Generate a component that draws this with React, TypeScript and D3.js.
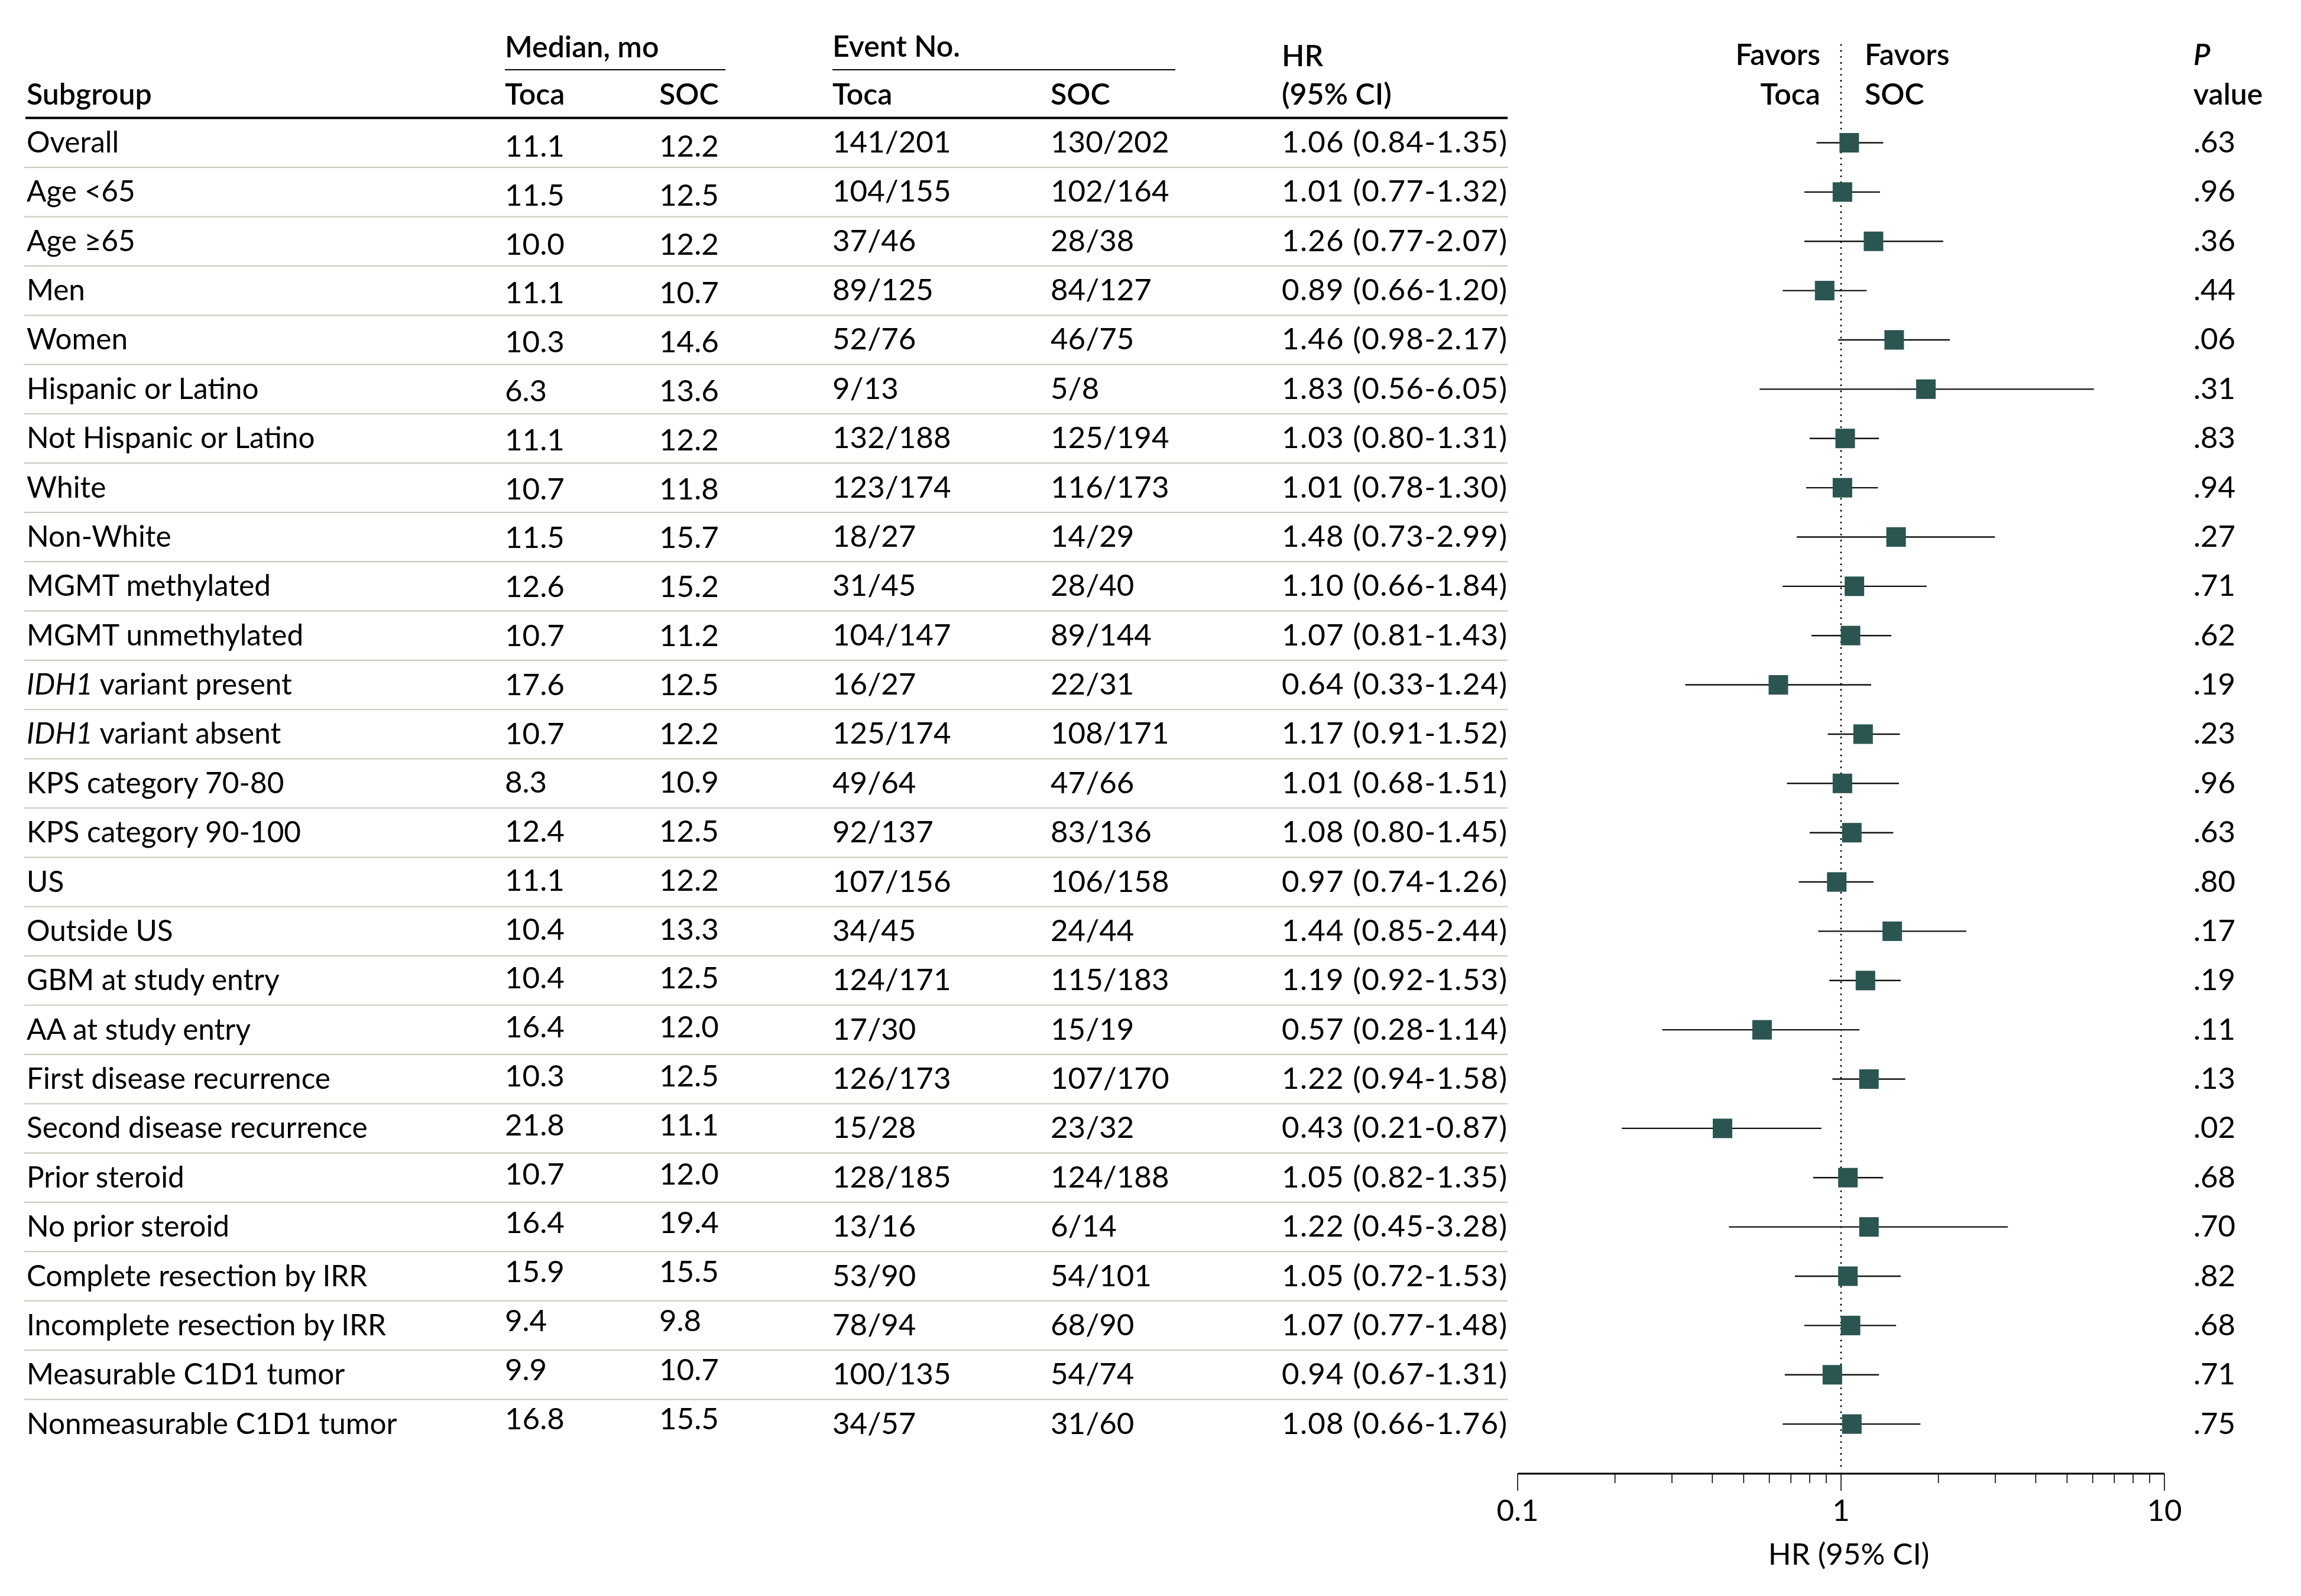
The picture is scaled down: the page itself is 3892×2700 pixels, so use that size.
import React from "react";
import * as d3 from "d3";

const subgroups = [
  "Overall", "Age <65", "Age \u226565", "Men", "Women", "Hispanic or Latino",
  "Not Hispanic or Latino", "White", "Non-White", "MGMT methylated", "MGMT unmethylated",
  "IDH1 variant present", "IDH1 variant absent", "KPS category 70-80", "KPS category 90-100",
  "US", "Outside US", "GBM at study entry", "AA at study entry", "First disease recurrence",
  "Second disease recurrence", "Prior steroid", "No prior steroid", "Complete resection by IRR",
  "Incomplete resection by IRR", "Measurable C1D1 tumor", "Nonmeasurable C1D1 tumor",
];
const medianToca = ["11.1", "11.5", "10.0", "11.1", "10.3", "6.3", "11.1", "10.7", "11.5", "12.6", "10.7", "17.6", "10.7", "8.3", "12.4", "11.1", "10.4", "10.4", "16.4", "10.3", "21.8", "10.7", "16.4", "15.9", "9.4", "9.9", "16.8"];
const medianSOC = ["12.2", "12.5", "12.2", "10.7", "14.6", "13.6", "12.2", "11.8", "15.7", "15.2", "11.2", "12.5", "12.2", "10.9", "12.5", "12.2", "13.3", "12.5", "12.0", "12.5", "11.1", "12.0", "19.4", "15.5", "9.8", "10.7", "15.5"];
const eventToca = ["141/201", "104/155", "37/46", "89/125", "52/76", "9/13", "132/188", "123/174", "18/27", "31/45", "104/147", "16/27", "125/174", "49/64", "92/137", "107/156", "34/45", "124/171", "17/30", "126/173", "15/28", "128/185", "13/16", "53/90", "78/94", "100/135", "34/57"];
const eventSOC = ["130/202", "102/164", "28/38", "84/127", "46/75", "5/8", "125/194", "116/173", "14/29", "28/40", "89/144", "22/31", "108/171", "47/66", "83/136", "106/158", "24/44", "115/183", "15/19", "107/170", "23/32", "124/188", "6/14", "54/101", "68/90", "54/74", "31/60"];
const hrValues = [1.06, 1.01, 1.26, 0.89, 1.46, 1.83, 1.03, 1.01, 1.48, 1.10, 1.07, 0.64, 1.17, 1.01, 1.08, 0.97, 1.44, 1.19, 0.57, 1.22, 0.43, 1.05, 1.22, 1.05, 1.07, 0.94, 1.08];
const ciLower = [0.84, 0.77, 0.77, 0.66, 0.98, 0.56, 0.80, 0.78, 0.73, 0.66, 0.81, 0.33, 0.91, 0.68, 0.80, 0.74, 0.85, 0.92, 0.28, 0.94, 0.21, 0.82, 0.45, 0.72, 0.77, 0.67, 0.66];
const ciUpper = [1.35, 1.32, 2.07, 1.20, 2.17, 6.05, 1.31, 1.30, 2.99, 1.84, 1.43, 1.24, 1.52, 1.51, 1.45, 1.26, 2.44, 1.53, 1.14, 1.58, 0.87, 1.35, 3.28, 1.53, 1.48, 1.31, 1.76];
const pValues = [".63", ".96", ".36", ".44", ".06", ".31", ".83", ".94", ".27", ".71", ".62", ".19", ".23", ".96", ".63", ".80", ".17", ".19", ".11", ".13", ".02", ".68", ".70", ".82", ".68", ".71", ".75"];
const axisTickLabels = ["0.1", "1", "10"];

const FONT = "Lato, 'Open Sans', sans-serif";
const FS = 51;
const LABEL_FS = 49.5;
const HEAD_FS = 50;
const MARKER = "#2b5551";
const SEP = "#c8ccbe";

export default function App() {
  const W = 3892;
  const H = 2700;
  const n = subgroups.length;
  const rowY = d3.scaleLinear().domain([0, n - 1]).range([241.5, 241.5 + (n - 1) * 83.37]);
  const medY = d3.scaleLinear().domain([0, n - 1]).range([241.5 + 7, 241.5 + (n - 1) * 83.37 - 8]);
  const x = d3.scaleLog().domain([0.1, 10]).range([2567, 3661]);
  const ticks = x.ticks();
  const x1 = x(1);
  const axisY = 2493;
  const base = 16.5;

  const fmtHR = (i: number) =>
    `${hrValues[i].toFixed(2)} (${ciLower[i].toFixed(2)}-${ciUpper[i].toFixed(2)})`;

  const renderLabel = (s: string) => {
    if (s.startsWith("IDH1")) {
      return (
        <>
          <tspan fontStyle="italic">IDH1</tspan>
          {s.slice(4)}
        </>
      );
    }
    return s;
  };

  return (
    <svg
      width={W}
      height={H}
      viewBox={`0 0 ${W} ${H}`}
      style={{ position: "absolute", left: 0, top: 0, background: "#fff" }}
      fontFamily={FONT}
      fontSize={FS}
    >
      <rect x={0} y={0} width={W} height={H} fill="#fff" />
      {/* Headers */}
      <g fontWeight={600} fill="#000" fontSize={HEAD_FS}>
        <text x={854} y={97}>Median, mo</text>
        <text x={1408} y={96}>Event No.</text>
        <text x={2168} y={112}>HR</text>
        <text x={45} y={177}>Subgroup</text>
        <text x={854} y={177}>Toca</text>
        <text x={1115} y={177}>SOC</text>
        <text x={1408} y={177}>Toca</text>
        <text x={1777} y={177}>SOC</text>
        <text x={2168} y={177}>(95% CI)</text>
        <text x={3079} y={110} textAnchor="end">Favors</text>
        <text x={3079} y={177} textAnchor="end">Toca</text>
        <text x={3154} y={110}>Favors</text>
        <text x={3154} y={177}>SOC</text>
        <text x={3710} y={110} fontStyle="italic">P</text>
        <text x={3710} y={177}>value</text>
      </g>
      <line x1={854} x2={1227} y1={118} y2={118} stroke="#000" strokeWidth={2.2} />
      <line x1={1408} x2={1988} y1={118} y2={118} stroke="#000" strokeWidth={2.2} />
      <line x1={43} x2={2550} y1={199.5} y2={199.5} stroke="#000" strokeWidth={4} />

      {/* Row separators */}
      {subgroups.slice(0, n - 1).map((_, i) => (
        <line key={`sep${i}`} x1={41} x2={2550} y1={rowY(i) + 41.7} y2={rowY(i) + 41.7} stroke={SEP} strokeWidth={2.2} />
      ))}

      {/* Table text */}
      <g fill="#000">
        {subgroups.map((s, i) => (
          <g key={`row${i}`}>
            <text x={45} y={rowY(i) + base} fontSize={LABEL_FS}>{renderLabel(s)}</text>
            <text x={854} y={medY(i) + base}>{medianToca[i]}</text>
            <text x={1115} y={medY(i) + base}>{medianSOC[i]}</text>
            <text x={1408} y={rowY(i) + base}>{eventToca[i]}</text>
            <text x={1777} y={rowY(i) + base}>{eventSOC[i]}</text>
            <text x={2168} y={rowY(i) + base} letterSpacing={1.3}>{fmtHR(i)}</text>
            <text x={3710} y={rowY(i) + base}>{pValues[i]}</text>
          </g>
        ))}
      </g>

      {/* Reference line */}
      <line x1={x1} x2={x1} y1={76} y2={axisY - 4} stroke="#000" strokeWidth={3} strokeDasharray="0.1 10" strokeLinecap="round" />

      {/* CIs and markers */}
      {subgroups.map((_, i) => (
        <g key={`ci${i}`}>
          <line x1={x(ciLower[i])} x2={x(ciUpper[i])} y1={rowY(i)} y2={rowY(i)} stroke="#111" strokeWidth={2.4} />
          <rect x={x(hrValues[i]) - 16.5} y={rowY(i) - 16.5} width={33} height={33} fill={MARKER} />
        </g>
      ))}

      {/* Axis */}
      <line x1={x(0.1)} x2={x(10)} y1={axisY} y2={axisY} stroke="#000" strokeWidth={3} />
      {ticks.map((t, i) => {
        const major = Math.abs(Math.log10(t) - Math.round(Math.log10(t))) < 1e-6;
        return (
          <line key={`t${i}`} x1={x(t)} x2={x(t)} y1={axisY} y2={axisY + (major ? 29 : 16)} stroke="#000" strokeWidth={1.6} />
        );
      })}
      {axisTickLabels.map((l) => (
        <text key={`tl${l}`} x={x(+l)} y={2573} textAnchor="middle">{l}</text>
      ))}
      <text x={3127} y={2647} textAnchor="middle">HR (95% CI)</text>
    </svg>
  );
}
